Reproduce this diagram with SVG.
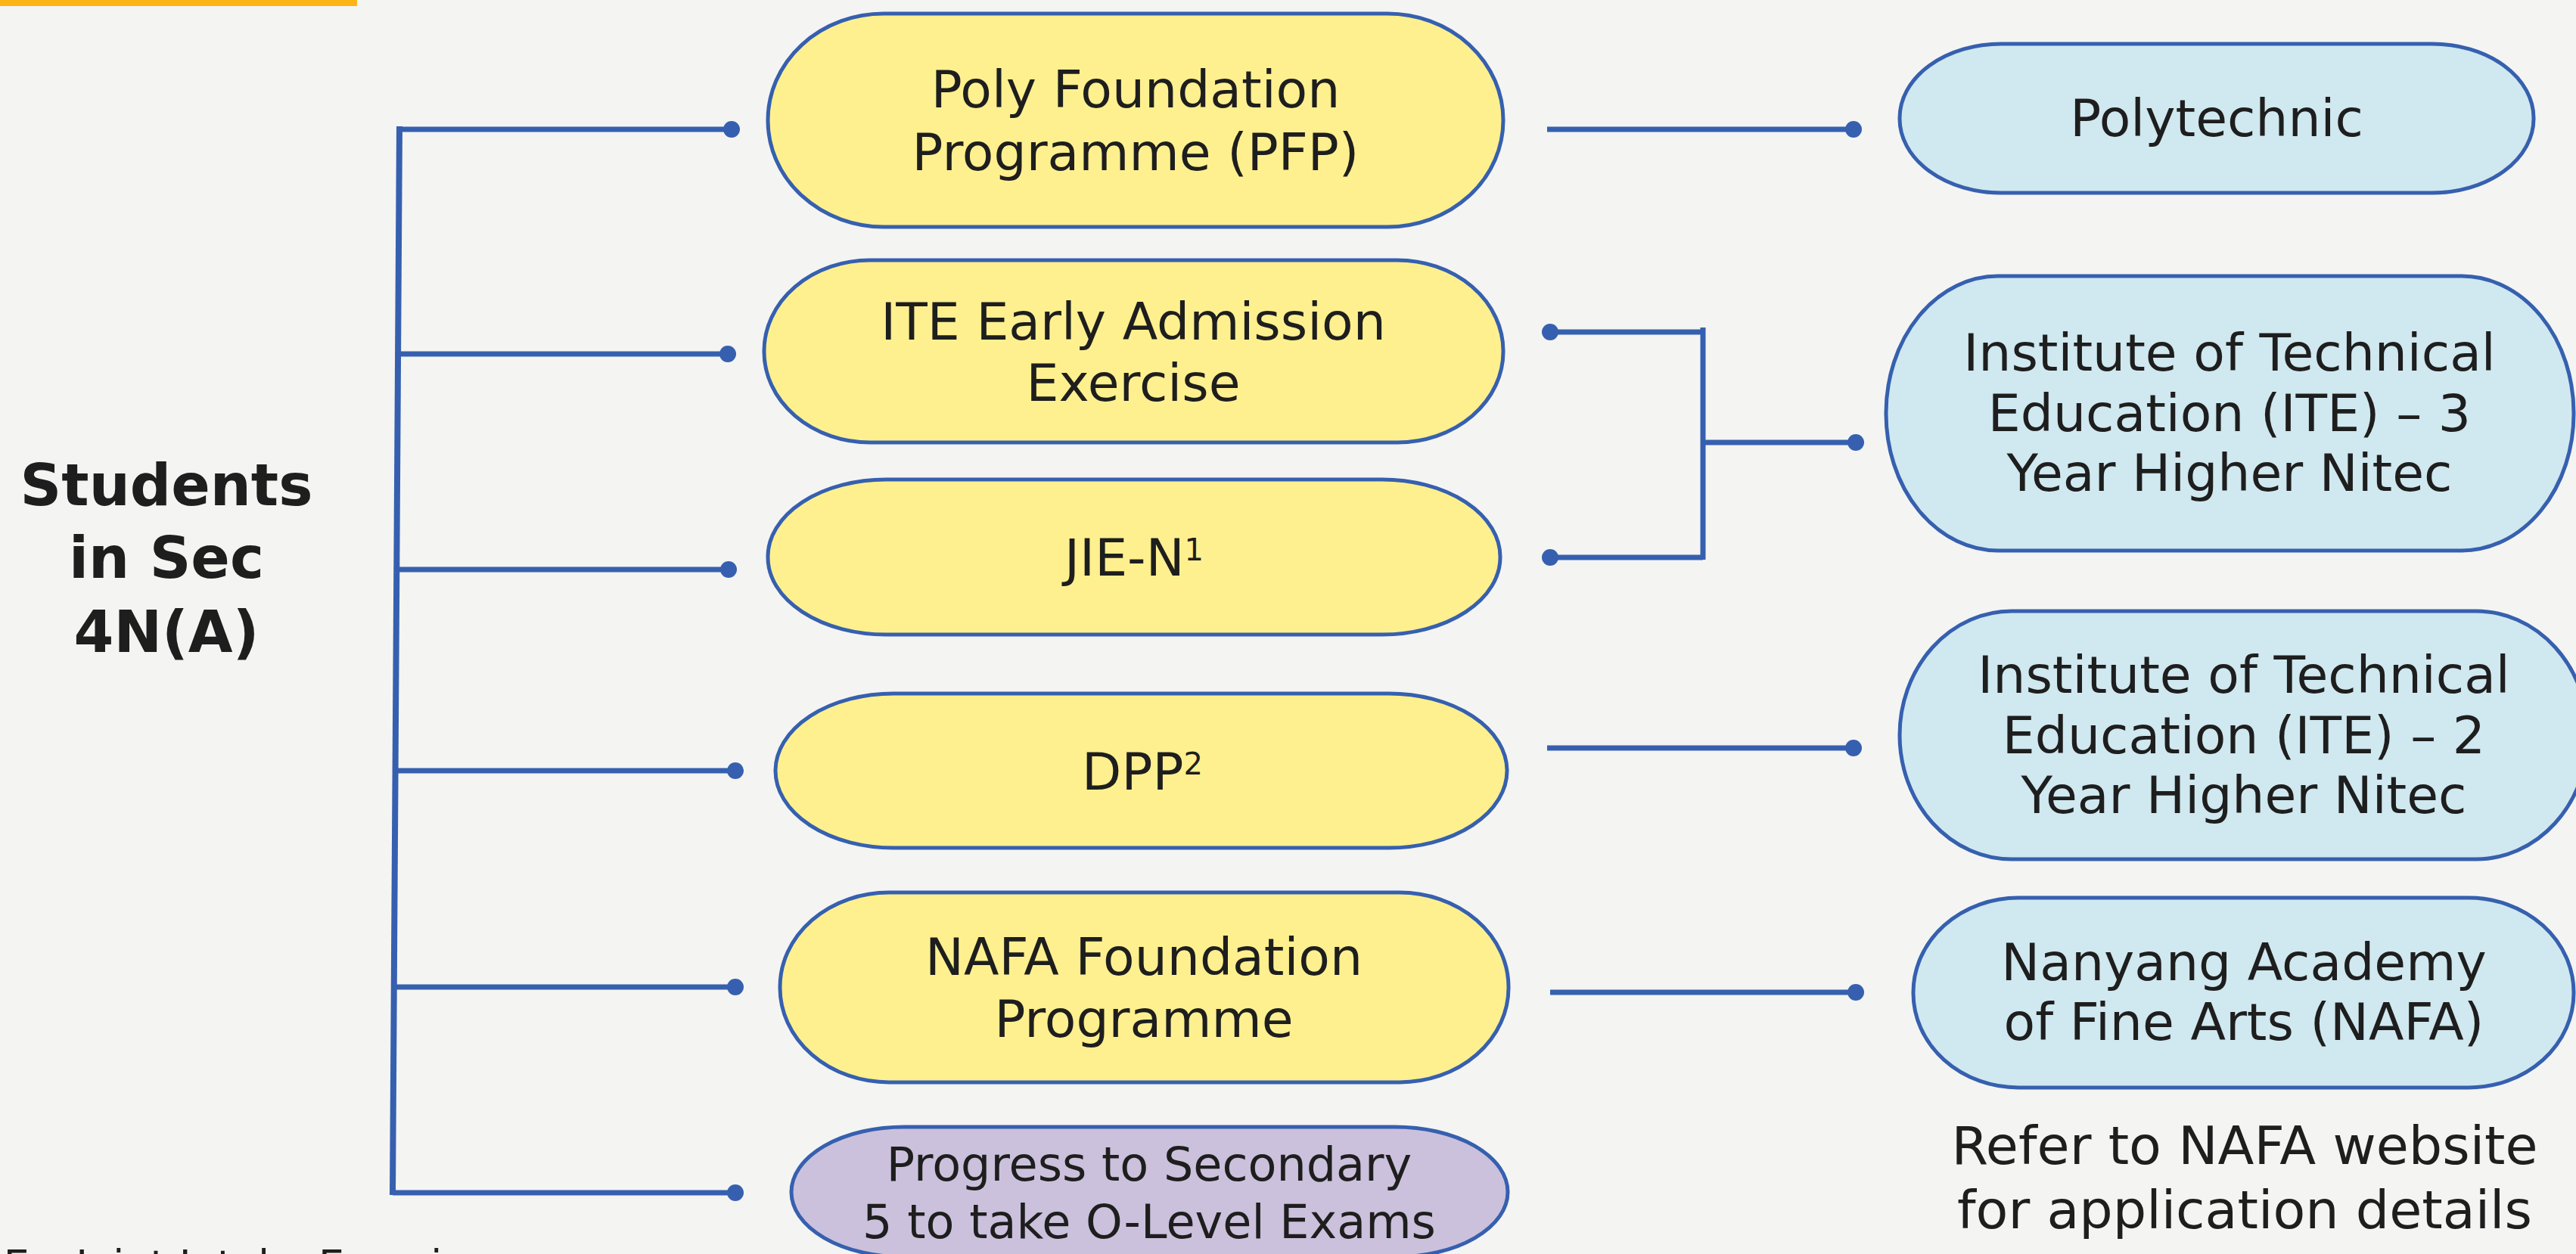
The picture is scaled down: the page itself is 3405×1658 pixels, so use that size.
<svg xmlns="http://www.w3.org/2000/svg" width="3405" height="1658" viewBox="0 0 3405 1658">
<defs>
<style>
.bg{fill:#F4F4F2}
.pill{stroke:#3660AF;stroke-width:5}
.y{fill:#FFF08F}
.b{fill:#D0E8EF}
.p{fill:#CBC1DC}
.t{font-family:"DejaVu Sans","Liberation Sans",sans-serif;font-size:68px;fill:#1E1E1E;text-anchor:middle}
.sm{font-size:62px}
.bold{font-weight:bold;font-size:76px}
.ln{stroke:#3660AF;stroke-width:7;fill:none}
.dot{fill:#3660AF}
</style>
</defs>
<rect class="bg" x="0" y="0" width="3405" height="1658"/>
<rect x="0" y="0" width="472" height="8" fill="#FDB515"/>

<g id="connectors">
<path class="ln" d="M528,167 L519,1580" style="stroke-width:8"/>
<path class="ln" d="M524,171 H967"/>
<path class="ln" d="M527,468 H962"/>
<path class="ln" d="M526,753 H963"/>
<path class="ln" d="M523,1019 H972"/>
<path class="ln" d="M521,1305 H972"/>
<path class="ln" d="M519,1577 H972"/>
<circle class="dot" cx="967" cy="171" r="11"/>
<circle class="dot" cx="962" cy="468" r="11"/>
<circle class="dot" cx="963" cy="753" r="11"/>
<circle class="dot" cx="972" cy="1019" r="11"/>
<circle class="dot" cx="972" cy="1305" r="11"/>
<circle class="dot" cx="972" cy="1577" r="11"/>

<path class="ln" d="M2045,171 H2450"/>
<circle class="dot" cx="2450" cy="171" r="11"/>

<path class="ln" d="M2049,439 H2251 M2049,737 H2251 M2251,433 V740 M2251,585 H2453"/>
<circle class="dot" cx="2049" cy="439" r="11"/>
<circle class="dot" cx="2049" cy="737" r="11"/>
<circle class="dot" cx="2453" cy="585" r="11"/>

<path class="ln" d="M2045,989 H2450"/>
<circle class="dot" cx="2450" cy="989" r="11"/>

<path class="ln" d="M2049,1312 H2453"/>
<circle class="dot" cx="2453" cy="1312" r="11"/>
</g>

<g id="students">
<text class="t bold" x="220" y="668">Students</text>
<text class="t bold" x="220" y="764">in Sec</text>
<text class="t bold" x="220" y="862">4N(A)</text>
</g>

<g id="pfp">
<rect class="pill y" x="1015" y="18" width="972" height="282" rx="153" ry="141"/>
<text class="t" x="1501" y="142">Poly Foundation</text>
<text class="t" x="1501" y="225">Programme (PFP)</text>
</g>

<g id="ite-early">
<rect class="pill y" x="1010" y="344" width="977" height="241" rx="140" ry="120"/>
<text class="t" x="1498" y="449">ITE Early Admission</text>
<text class="t" x="1498" y="530">Exercise</text>
</g>

<g id="jie-n">
<rect class="pill y" x="1015" y="634" width="968" height="205" rx="156" ry="102"/>
<text class="t" x="1499" y="761">JIE-N<tspan font-size="40" dy="-20">1</tspan></text>
</g>

<g id="dpp">
<rect class="pill y" x="1025" y="917" width="967" height="204" rx="156" ry="102"/>
<text class="t" x="1510" y="1044">DPP<tspan font-size="40" dy="-20">2</tspan></text>
</g>

<g id="nafa-foundation">
<rect class="pill y" x="1031" y="1180" width="963" height="251" rx="144" ry="125"/>
<text class="t" x="1512" y="1289">NAFA Foundation</text>
<text class="t" x="1512" y="1371">Programme</text>
</g>

<g id="sec5">
<rect class="pill p" x="1046" y="1490" width="947" height="172" rx="149" ry="86"/>
<text class="t sm" x="1519" y="1561">Progress to Secondary</text>
<text class="t sm" x="1519" y="1637">5 to take O-Level Exams</text>
</g>

<g id="polytechnic">
<rect class="pill b" x="2511" y="58" width="838" height="197" rx="134" ry="98"/>
<text class="t" x="2930" y="180">Polytechnic</text>
</g>

<g id="ite-3yr">
<rect class="pill b" x="2493" y="365" width="909" height="363" rx="148" ry="181"/>
<text class="t" x="2947" y="490">Institute of Technical</text>
<text class="t" x="2947" y="570">Education (ITE) – 3</text>
<text class="t" x="2947" y="649">Year Higher Nitec</text>
</g>

<g id="ite-2yr">
<rect class="pill b" x="2511" y="808" width="910" height="328" rx="148" ry="164"/>
<text class="t" x="2966" y="916">Institute of Technical</text>
<text class="t" x="2966" y="996">Education (ITE) – 2</text>
<text class="t" x="2966" y="1075">Year Higher Nitec</text>
</g>

<g id="nafa">
<rect class="pill b" x="2529" y="1187" width="873" height="251" rx="139" ry="125"/>
<text class="t" x="2966" y="1296">Nanyang Academy</text>
<text class="t" x="2966" y="1375">of Fine Arts (NAFA)</text>
</g>

<g id="nafa-note">
<text class="t" x="2967" y="1539" style="font-size:70px">Refer to NAFA website</text>
<text class="t" x="2967" y="1624" style="font-size:70px">for application details</text>
</g>

<g id="footnote">
<text class="t" x="-27" y="1691" style="font-size:54px;text-anchor:start">JIE – Joint Intake Exercise</text>
</g>
</svg>
